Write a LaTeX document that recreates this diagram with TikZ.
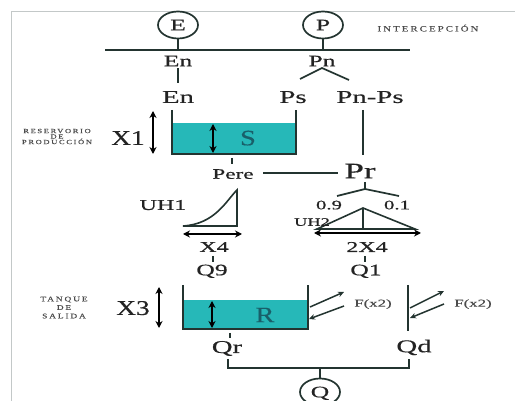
\documentclass[tikz,border=0pt]{standalone}
\usepackage{fontspec}
\setmainfont{Liberation Serif}
\newfontfamily\fwide[FakeStretch=1.6,FakeBold=0.6]{Liberation Serif}
\newfontfamily\fmid[FakeStretch=1.3,FakeBold=0.4]{Liberation Serif}
\newfontfamily\fcaps[FakeStretch=1.35,LetterSpace=26,FakeBold=0.3]{Liberation Serif}
\usetikzlibrary{arrows.meta,shapes.geometric}
\definecolor{lc}{RGB}{35,52,48}
\definecolor{tc}{RGB}{35,35,35}
\definecolor{gc}{RGB}{75,75,75}
\definecolor{water}{RGB}{38,184,184}
\definecolor{wtext}{RGB}{25,95,105}
\definecolor{framec}{RGB}{195,200,200}
\newcommand\setfs[1]{\fontsize{#1}{#1}\selectfont}
\begin{document}
\begin{tikzpicture}[x=1pt,y=-1pt,
  ln/.style={draw=lc,line width=1.7pt},
  wall/.style={draw=lc,line width=2.3pt},
  dbl/.style={draw=black,line width=1.7pt,{Stealth[length=7pt,width=7pt]}-{Stealth[length=7pt,width=7pt]}},
  sarr/.style={draw=lc,line width=1.5pt,-{Stealth[length=6pt,width=5.5pt]}},
  txt/.style={inner sep=0pt,text depth=0pt,text=tc},
  circ/.style={ellipse,draw=lc,line width=1.7pt,minimum width=40pt,minimum height=27pt,inner sep=0pt,text depth=0pt,text=tc,font=\fwide\setfs{16}},
  la/.style={txt,font=\fwide\setfs{16}},
  lb/.style={txt,font=\fwide\setfs{18}},
  lc16/.style={txt,font=\fwide\setfs{15}},
  lsm/.style={txt,font=\fwide\setfs{13}},
  lxs/.style={txt,font=\fwide\setfs{11.5}},
  lx/.style={txt,font=\fmid\setfs{21}},
  lw/.style={txt,font=\fmid\setfs{22},text=wtext},
  lf/.style={txt,font=\fwide\setfs{10.5},text=gc},
  lcap/.style={txt,font=\fcaps\setfs{8},text=gc},
  lres/.style={txt,align=center,text=gc},
]
\useasboundingbox (0,0) rectangle (515,401);
\clip (0,0) rectangle (515,401);
% frame
\draw[framec,line width=1pt] (11,401) -- (11,12) -- (515,12);

% interception
\node[circ] (E) at (178,25) {E};
\node[circ] (P) at (323,25) {P};
\coordinate (hl) at (105,50);
\coordinate (hr) at (410,50);
\draw[ln] (hl) -- (hr);
\draw[ln] (E.south) -- (E.south |- hl);
\draw[ln] (P.south) -- (P.south |- hl);
\node[lcap] (inter) at (428,28) {INTERCEPCIÓN};

\node[la] (En1) at (178,61) {En};
\node[la] (Pn) at (322,61) {Pn};
\node[lb] (En2) at (178,97) {En};
\node[lb] (Ps) at (293,97) {Ps};
\node[lb] (PnPs) at (370,97) {Pn-Ps};
\draw[ln,shorten <=2pt,shorten >=8pt] (En1) -- (En2);
\coordinate (pnA) at (322,68);
\coordinate (pnL) at (300,79);
\coordinate (pnR) at (349,80);
\draw[ln] (pnL) -- (pnA) -- (pnR);

% production store
\fill[water] (172,123) rectangle (296,154);
\draw[wall] (172,110) -- (172,154) -- (296,154) -- (296,110);
\draw[dbl] (213,124) -- (213,153);
\node[lw] (S) at (248,138) {S};
\draw[dbl] (153,111) -- (153,154);
\node[lx] (X1) at (128,138) {X1};
\node[lres,font=\fcaps\setfs{6.3}] (res) at (57,136.5) {RESERVORIO\\[-0.8pt]DE\\[-0.8pt]PRODUCCIÓN};

\coordinate (pv1) at (363,110);
\coordinate (pv2) at (363,155);
\draw[ln] (pv1) -- (pv2);

\coordinate (st1) at (232,158);
\coordinate (st2) at (232,164);
\draw[ln] (st1) -- (st2);
\node[txt,font=\fwide\setfs{14.5}] (Pere) at (233,174) {Pere};
\node[txt,font=\fwide\setfs{22}] (Pr) at (360,171) {Pr};
\coordinate (pl1) at (263,173);
\coordinate (pl2) at (338,173);
\draw[ln] (pl1) -- (pl2);

% split
\coordinate (prT) at (365,182);
\coordinate (prA) at (365,189);
\coordinate (prL) at (337,196);
\coordinate (prR) at (399,196);
\draw[ln] (prT) -- (prA);
\draw[ln] (prL) -- (prA) -- (prR);
\node[lsm] (n09) at (329,205) {0.9};
\node[lsm] (n01) at (397,205) {0.1};

% UH1
\draw[ln,line width=1.6pt] (183,226) .. controls (215,224) and (226,201) .. (237,190) -- (237,226) -- cycle;
\node[lc16] (UH1) at (163,205) {UH1};
\draw[dbl] (183,234) -- (242,234);
\node[lc16] (X4) at (214,247) {X4};
\coordinate (q9a) at (213,256);
\coordinate (q9b) at (213,262);
\draw[ln] (q9a) -- (q9b);
\node[txt,font=\fwide\setfs{16}] (Q9) at (212,270) {Q9};

% UH2
\draw[ln,line width=1.6pt] (317,229) -- (363,208) -- (415,229) -- cycle;
\draw[ln,line width=1.6pt] (363,208) -- (363,229);
\node[lxs] (UH2) at (312,222) {UH2};
\draw[dbl] (314,233) -- (421,233);
\node[lc16] (X24) at (367,247) {2X4};
\coordinate (q1a) at (365,256);
\coordinate (q1b) at (365,262);
\draw[ln] (q1a) -- (q1b);
\node[txt,font=\fwide\setfs{16}] (Q1) at (366,270) {Q1};

% routing store
\fill[water] (183,300) rectangle (308,329);
\draw[wall] (183,285) -- (183,329) -- (308,329) -- (308,285);
\draw[dbl] (212,301) -- (212,328);
\node[lw] (R) at (265,315) {R};
\draw[dbl] (159,287) -- (159,328);
\node[lx] (X3) at (133,308) {X3};
\node[lres,font=\fcaps\setfs{7}] (tank) at (64,307.5) {TANQUE\\[1.5pt]DE\\[1.5pt]SALIDA};

\coordinate (f1a) at (310,307);
\coordinate (f1b) at (344,292);
\coordinate (f2a) at (344,306);
\coordinate (f2b) at (309,319);
\draw[sarr] (f1a) -- (f1b);
\draw[sarr] (f2a) -- (f2b);
\node[lf] (F1) at (373,303) {F(x2)};

\coordinate (dv1) at (408,285);
\coordinate (dv2) at (408,331);
\draw[wall] (dv1) -- (dv2);
\coordinate (g1a) at (410,308);
\coordinate (g1b) at (444,291);
\coordinate (g2a) at (444,304);
\coordinate (g2b) at (410,318);
\draw[sarr] (g1a) -- (g1b);
\draw[sarr] (g2a) -- (g2b);
\node[lf] (F2) at (473,303) {F(x2)};

\coordinate (qra) at (230,333);
\coordinate (qrb) at (230,338);
\draw[ln] (qra) -- (qrb);
\node[txt,font=\fwide\setfs{18}] (Qr) at (227,347) {Qr};
\node[txt,font=\fwide\setfs{18}] (Qd) at (414,346) {Qd};

% sum
\coordinate (b1) at (228,359);
\coordinate (b2) at (228,368);
\coordinate (b3) at (409,368);
\coordinate (b4) at (409,359);
\draw[ln] (b1) -- (b2) -- (b3) -- (b4);
\node[circ] (Q) at (320,392) {Q};
\draw[ln] (Q.north |- b2) -- (Q.north);
\end{tikzpicture}
\end{document}
